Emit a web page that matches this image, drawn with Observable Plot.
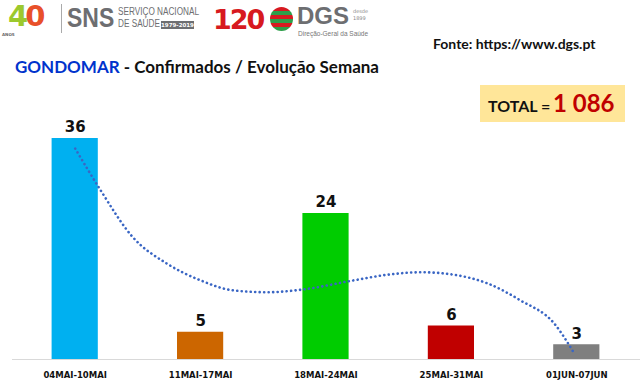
<!DOCTYPE html>
<html>
<head>
<meta charset="utf-8">
<script src="https://cdn.jsdelivr.net/npm/d3@7"></script>
<script src="https://cdn.jsdelivr.net/npm/@observablehq/plot@0.6"></script>
<style>
  html, body { margin: 0; padding: 0; background: #fff; }
  #wrap { position: relative; width: 640px; height: 382px; overflow: hidden; font-family: Lato, "Open Sans", sans-serif; }
  .abs { position: absolute; white-space: nowrap; }
  .narrow { transform: scaleX(0.82); transform-origin: left center; }
  #chart { position: absolute; left: 0; top: 118px; }
</style>
</head>
<body>
<div id="wrap">
  <!-- header logos as text -->
  <div class="abs" style="left:8px;top:2px;font:900 29px/1 'DejaVu Sans',sans-serif;letter-spacing:-3px;">
    <span style="color:#9cc92e">4</span><span style="color:#e8502a">0</span>
  </div>
  <div class="abs" style="left:2px;top:33px;font:700 4px/1 'DejaVu Sans';color:#666">ANOS</div>
  <div class="abs" style="left:61px;top:4px;width:1px;height:29px;background:#aaa"></div>
  <div class="abs narrow" style="left:67px;top:4px;font:700 28px/1 'Liberation Sans',sans-serif;color:#6d6e71;">SNS</div>
  <div class="abs narrow" style="left:118px;top:7px;font:400 10px/1 'Liberation Sans',sans-serif;color:#6d6e71">SERVIÇO NACIONAL</div>
  <div class="abs narrow" style="left:118px;top:19px;font:400 10px/1 'Liberation Sans',sans-serif;color:#6d6e71">DE SAÚDE</div>
  <div class="abs" style="left:161px;top:21px;width:33px;height:8px;background:#6d6e71;overflow:hidden"><div style="color:#fff;font:700 5.5px/8px 'DejaVu Sans';text-align:center">1979-2019</div></div>
  <div class="abs" style="left:213px;top:6px;font:900 27px/1 'DejaVu Sans',sans-serif;color:#d71920;letter-spacing:-2px">120</div>
  <div class="abs" style="left:270px;top:7px;width:23px;height:24px;border-radius:50%;background:repeating-linear-gradient(180deg,#d71920 0 4px,#2e9e4a 4px 8px)"></div>
  <div class="abs" style="left:297px;top:4px;font:700 24px/1 'Liberation Sans',sans-serif;color:#6d6e71">DGS</div>
  <div class="abs" style="left:353px;top:8px;font:400 5px/7px 'DejaVu Sans';color:#888">desde<br>1899</div>
  <div class="abs" style="left:298px;top:31px;font:400 6.5px/1 'Liberation Sans';color:#777">Direção-Geral da Saúde</div>

  <div class="abs" style="left:433px;top:37px;font:700 14px/1 Lato,sans-serif;color:#111">Fonte: https://www.dgs.pt</div>

  <div class="abs" style="left:15px;top:58px;font:700 17px/1 Lato,sans-serif;color:#111"><span style="color:#0033cc">GONDOMAR</span> - Confirmados / Evolução Semana</div>

  <div class="abs" style="left:480px;top:85px;width:145px;height:37px;background:#ffe699;"></div>
  <div class="abs" style="left:488px;top:98px;font:700 16px/1 Lato,sans-serif;color:#111">TOTAL =</div>
  <div class="abs" style="left:553px;top:91px;font:700 24px/1 Lato,sans-serif;color:#c00000">1 086</div>

  <div id="chart"></div>
</div>
<script>
const weeks = ["04MAI-10MAI", "11MAI-17MAI", "18MAI-24MAI", "25MAI-31MAI", "01JUN-07JUN"];
const cases = [36, 5, 24, 6, 3];
const barColors = ["#00b0f0", "#cc6600", "#00cc00", "#c00000", "#7f7f7f"];

// dotted trend line (position in week index, value)
const trendPos = [0, 0.2, 0.46, 0.73, 1.0, 1.26, 1.53, 1.8, 2.22, 2.49, 2.76, 3.02, 3.29, 3.55, 3.82, 3.98];
const trendVal = [34.4, 27.8, 20.2, 16.0, 13.3, 11.7, 11.4, 11.8, 13.3, 14.2, 14.6, 14.2, 12.8, 10.1, 6.4, 1.6];

const bars = weeks.map((w, i) => ({i, week: w, value: cases[i], color: barColors[i]}));
const trend = trendPos.map((p, k) => ({p, v: trendVal[k]}));

const plot = Plot.plot({
  width: 640,
  height: 264,
  marginLeft: 12,
  marginRight: 1,
  marginTop: 20,
  marginBottom: 23,
  x: {type: "linear", domain: [-0.5, 4.5], axis: null},
  y: {domain: [0.64, 36], clamp: true, axis: null},
  marks: [
    Plot.rectY(bars, {x1: d => d.i - 0.5, x2: d => d.i + 0.5, y1: 0, y2: "value", fill: "color", insetLeft: 39.6, insetRight: 39.6}),
    Plot.frame({anchor: "bottom", stroke: "#d9d9d9", strokeWidth: 1}),
    Plot.text(bars, {x: "i", y: "value", text: d => String(d.value), dy: -11, fontSize: 15, fontWeight: "bold", fill: "#111", fontFamily: "DejaVu Sans"}),
    Plot.axisX({ticks: weeks.map((w, i) => i), tickFormat: i => weeks[i], tickSize: 0, tickPadding: 12, fontSize: 8.5, fontWeight: "bold", fontFamily: "DejaVu Sans", color: "#111"}),
    Plot.line(trend, {x: "p", y: "v", curve: "monotone-x", stroke: "#3a66c4", strokeWidth: 2.6, strokeDasharray: "0.1 4.4", strokeLinecap: "round"})
  ],
  style: {background: "transparent", overflow: "visible"}
});
document.getElementById("chart").appendChild(plot);
</script>
</body>
</html>
